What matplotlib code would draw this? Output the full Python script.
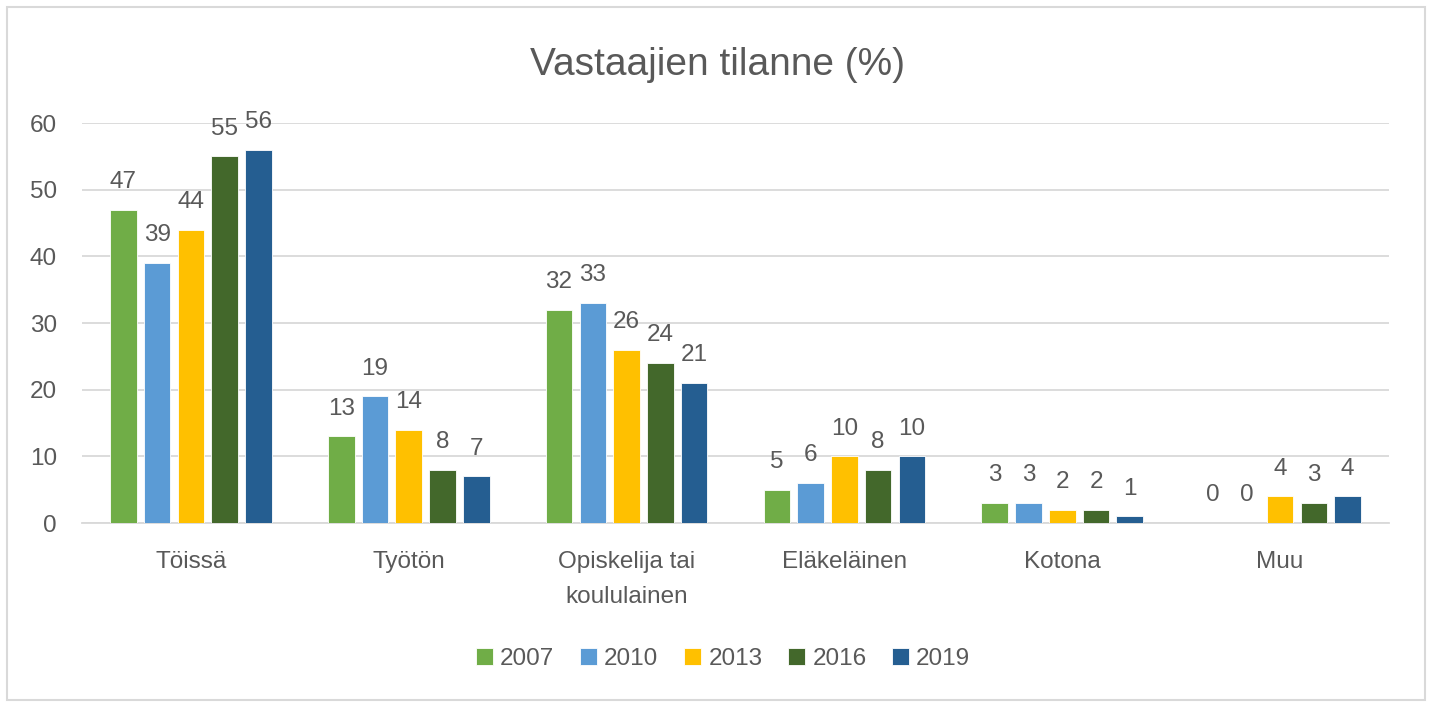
import numpy as np
import matplotlib.pyplot as plt
from matplotlib.patches import Rectangle

plt.rcParams['font.family'] = ['Liberation Sans', 'DejaVu Sans']

#### data ####
categories = ["Töissä", "Työtön", "Opiskelija tai\nkoululainen", "Eläkeläinen", "Kotona", "Muu"]
years = ["2007", "2010", "2013", "2016", "2019"]
v2007 = [47, 13, 32, 5, 3, 0]
v2010 = [39, 19, 33, 6, 3, 0]
v2013 = [44, 14, 26, 10, 2, 4]
v2016 = [55, 8, 24, 8, 2, 3]
v2019 = [56, 7, 21, 10, 1, 4]
series = [v2007, v2010, v2013, v2016, v2019]
colors = ['#70AD47', '#5B9BD5', '#FFC000', '#43682B', '#255E91']

txtcol = '#595959'
fs = 17.5

fig = plt.figure(figsize=(14.34, 7.02), dpi=100)
fig.patches.append(Rectangle((7/1434, 2/702), 1418/1434, 693/702, transform=fig.transFigure,
                             fill=False, edgecolor='#D9D9D9', lw=1.5))
ax = fig.add_axes([82/1434, 179/702, 1307/1434, 400/702])

x = np.arange(len(categories))
pitch = 0.155
width = 0.122
for i, (vals, c) in enumerate(zip(series, colors)):
    pos = x + (i - 2) * pitch
    ax.bar(pos, vals, width, color=c, edgecolor='white', lw=0.6, label=years[i], zorder=3)
    for p, v in zip(pos, vals):
        ax.annotate(str(v), (p, v), xytext=(0, 15.5), textcoords='offset points',
                    ha='center', va='baseline', fontsize=fs, color=txtcol, annotation_clip=False)

ax.set_xlim(-0.5, len(categories) - 0.5)
ax.set_ylim(0, 60)
ax.set_yticks(range(0, 61, 10))
ax.yaxis.grid(True, color='#D9D9D9', lw=1.3)
ax.set_axisbelow(True)
for s in ['top', 'right', 'left']:
    ax.spines[s].set_visible(False)
ax.spines['bottom'].set_color('#D9D9D9')
ax.spines['bottom'].set_linewidth(1.3)
ax.tick_params(axis='both', length=0, labelsize=fs, colors=txtcol)
ax.tick_params(axis='y', pad=18)
ax.tick_params(axis='x', pad=20)
ax.set_xticks(x)
ax.set_xticklabels(categories, linespacing=1.75)

fig.text(0.5, 0.907, "Vastaajien tilanne (%)", ha='center', va='center', fontsize=28, color=txtcol)

ax.legend(loc='center', bbox_to_anchor=(0.4905, -0.34), ncol=5, frameon=False,
          fontsize=fs, handlelength=0.7, handleheight=0.7, handletextpad=0.3,
          columnspacing=1.05, labelcolor=txtcol)

plt.savefig("out.png", dpi=100)
